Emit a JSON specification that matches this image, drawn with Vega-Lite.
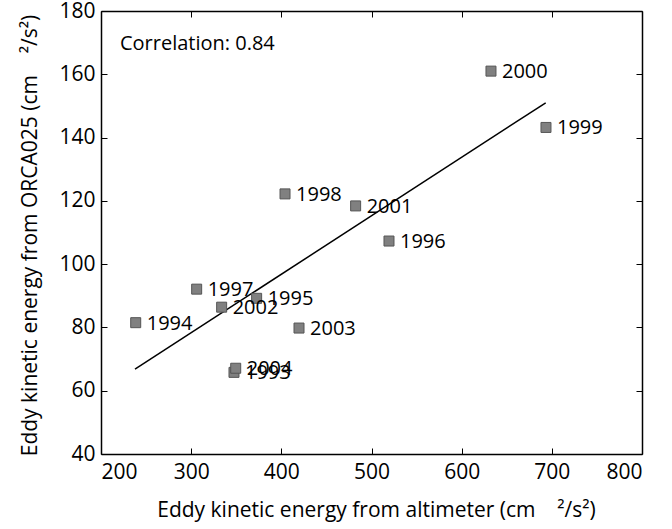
{
  "$schema": "https://vega.github.io/schema/vega-lite/v6.json",
  "width": 541,
  "height": 443,
  "autosize": "none",
  "padding": {"left": 101, "top": 11, "right": 30, "bottom": 75},
  "background": "white",
  "config": {
    "font": "Open Sans",
    "view": {"stroke": null},
    "axis": {
      "domain": true,
      "domainColor": "black",
      "domainWidth": 1.5,
      "grid": false,
      "tickColor": "black",
      "tickSize": -6,
      "tickWidth": 1,
      "labelFont": "Open Sans",
      "labelFontSize": 21,
      "labelColor": "black",
      "titleFont": "Open Sans",
      "titleFontSize": 21,
      "titleFontWeight": "normal",
      "titleColor": "black"
    }
  },
  "datasets": {
    "points": [
      {"year": "1993", "alt": 347.5, "orca": 65.8},
      {"year": "1994", "alt": 238.5, "orca": 81.5},
      {"year": "1995", "alt": 372.6, "orca": 89.2},
      {"year": "1996", "alt": 519.4, "orca": 107.3},
      {"year": "1997", "alt": 306.1, "orca": 92.1},
      {"year": "1998", "alt": 404.1, "orca": 122.2},
      {"year": "1999", "alt": 693.5, "orca": 143.2},
      {"year": "2000", "alt": 632.5, "orca": 161.0},
      {"year": "2001", "alt": 482.4, "orca": 118.4},
      {"year": "2002", "alt": 333.8, "orca": 86.4},
      {"year": "2003", "alt": 419.6, "orca": 79.8},
      {"year": "2004", "alt": 349.4, "orca": 67.1}
    ],
    "fit": [
      {"alt": 237.7, "orca": 66.8},
      {"alt": 693.2, "orca": 151.0}
    ],
    "note": [
      {"alt": 221, "orca": 169.6, "label": "Correlation: 0.84"}
    ]
  },
  "resolve": {"axis": {"x": "independent", "y": "independent"}},
  "layer": [
    {
      "data": {"name": "fit"},
      "mark": {"type": "line", "color": "black", "strokeWidth": 1.5},
      "encoding": {
        "x": {
          "field": "alt", "type": "quantitative",
          "scale": {"domain": [200, 800], "nice": false, "zero": false},
          "axis": {
            "orient": "bottom",
            "values": [200, 300, 400, 500, 600, 700, 800],
            "labelPadding": 13,
            "title": "Eddy kinetic energy from altimeter (cm\u00a0\u00a0\u00a0\u00a0²/s²)",
            "titleX": 275,
            "titleY": 56,
            "titleBaseline": "middle"
          }
        },
        "y": {
          "field": "orca", "type": "quantitative",
          "scale": {"domain": [40, 180], "nice": false, "zero": false},
          "axis": {
            "orient": "left",
            "values": [40, 60, 80, 100, 120, 140, 160, 180],
            "labelPadding": 12,
            "title": "Eddy kinetic energy from ORCA025 (cm\u00a0\u00a0\u00a0\u00a0²/s²)",
            "titleX": -71,
            "titleY": 224,
            "titleBaseline": "middle",
            "titleAngle": -90
          }
        }
      }
    },
    {
      "data": {"name": "points"},
      "mark": {"type": "point", "shape": "square", "filled": true, "size": 100, "color": "#808080", "stroke": "#555555", "strokeWidth": 1, "opacity": 1},
      "encoding": {
        "x": {
          "field": "alt", "type": "quantitative",
          "scale": {"domain": [200, 800], "nice": false, "zero": false},
          "axis": {"orient": "top", "values": [200, 300, 400, 500, 600, 700, 800], "labels": false, "title": null}
        },
        "y": {
          "field": "orca", "type": "quantitative",
          "scale": {"domain": [40, 180], "nice": false, "zero": false},
          "axis": {"orient": "right", "values": [40, 60, 80, 100, 120, 140, 160, 180], "labels": false, "title": null}
        }
      }
    },
    {
      "data": {"name": "points"},
      "mark": {"type": "text", "align": "left", "baseline": "middle", "dx": 11, "dy": 1, "fontSize": 20, "font": "Open Sans", "color": "black"},
      "encoding": {
        "x": {"field": "alt", "type": "quantitative", "axis": null},
        "y": {"field": "orca", "type": "quantitative", "axis": null},
        "text": {"field": "year"}
      }
    },
    {
      "data": {"name": "note"},
      "mark": {"type": "text", "align": "left", "baseline": "middle", "fontSize": 20, "font": "Open Sans", "color": "black"},
      "encoding": {
        "x": {"field": "alt", "type": "quantitative", "axis": null},
        "y": {"field": "orca", "type": "quantitative", "axis": null},
        "text": {"field": "label"}
      }
    }
  ]
}
